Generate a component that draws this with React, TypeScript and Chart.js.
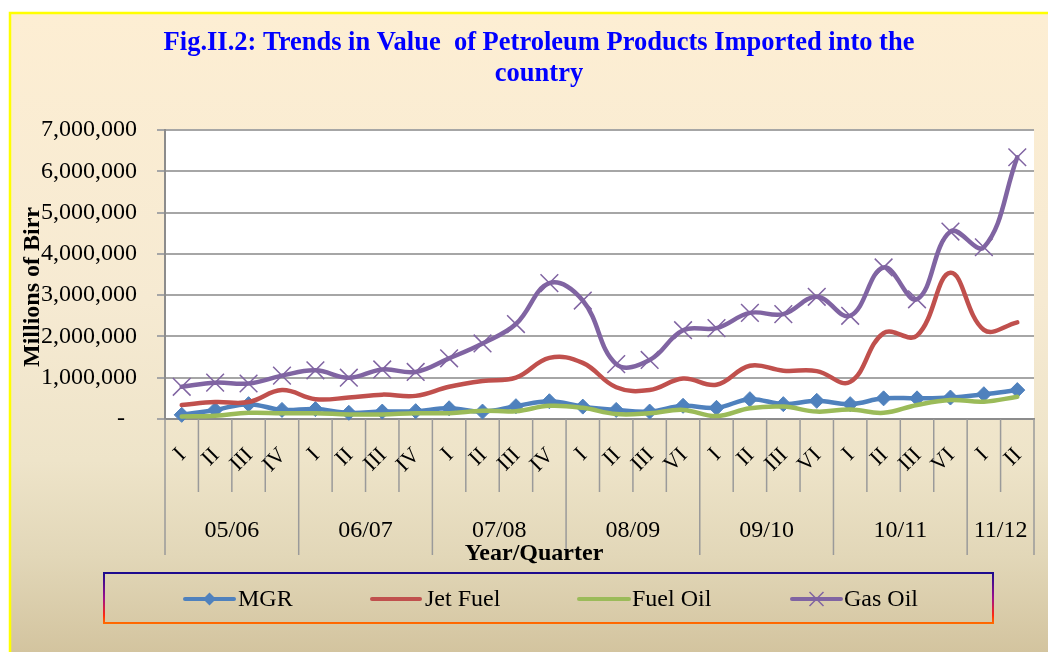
import React, { useEffect, useRef } from 'react';
import { Chart, registerables } from 'chart.js';

Chart.register(...registerables);

const quarterLabels = [
  'I', 'II', 'III', 'IV',
  'I', 'II', 'III', 'IV',
  'I', 'II', 'III', 'IV',
  'I', 'II', 'III', 'VI',
  'I', 'II', 'III', 'VI',
  'I', 'II', 'III', 'VI',
  'I', 'II',
];
const yearGroups = ['05/06', '06/07', '07/08', '08/09', '09/10', '10/11', '11/12'];
const yearGroupSizes = [4, 4, 4, 4, 4, 4, 2];

const mgr = [100000, 220000, 360000, 220000, 240000, 150000, 180000, 190000, 260000, 180000, 310000, 430000, 300000, 220000, 180000, 320000, 270000, 480000, 360000, 440000, 360000, 500000, 500000, 520000, 600000, 700000];
const jetFuel = [340000, 410000, 410000, 700000, 480000, 520000, 590000, 560000, 780000, 920000, 1000000, 1480000, 1360000, 770000, 700000, 980000, 830000, 1290000, 1170000, 1160000, 900000, 2080000, 2020000, 3540000, 2160000, 2340000];
const fuelOil = [60000, 80000, 150000, 140000, 140000, 110000, 110000, 140000, 140000, 200000, 190000, 320000, 270000, 120000, 140000, 220000, 70000, 260000, 300000, 180000, 230000, 150000, 340000, 460000, 420000, 540000];
const gasOil = [780000, 880000, 860000, 1050000, 1180000, 1000000, 1200000, 1140000, 1470000, 1830000, 2300000, 3290000, 2870000, 1330000, 1430000, 2150000, 2200000, 2570000, 2540000, 2960000, 2500000, 3670000, 2900000, 4540000, 4160000, 6340000];

const yMin = 0;
const yMax = 7000000;
const yStep = 1000000;

const titleLines = ['Fig.II.2: Trends in Value  of Petroleum Products Imported into the', 'country'];
const yTitle = 'Millions of Birr';
const xTitle = 'Year/Quarter';

const seriesNames = ['MGR', 'Jet Fuel', 'Fuel Oil', 'Gas Oil'];
const seriesColors = ['#4F81BD', '#C0504D', '#9BBB59', '#8064A2'];

const SERIF = '"Liberation Serif", "Times New Roman", serif';

export default function App() {
  const ref = useRef<HTMLCanvasElement | null>(null);

  useEffect(() => {
    document.body.style.margin = '0';
    const canvas = ref.current;
    if (!canvas) return;

    const decor = {
      id: 'decor',
      beforeDraw(chart: any) {
        const { ctx, chartArea: ca, width, height } = chart;
        ctx.save();
        ctx.fillStyle = '#ffffff';
        ctx.fillRect(0, 0, width, height);
        const g = ctx.createLinearGradient(0, 14, 0, height);
        g.addColorStop(0, '#FDEED3');
        g.addColorStop(0.45, '#F6EAD2');
        g.addColorStop(0.7, '#EEE4C9');
        g.addColorStop(0.85, '#E2D7B8');
        g.addColorStop(1, '#D3C49F');
        ctx.fillStyle = g;
        ctx.fillRect(11, 14, width - 11, height - 14);
        ctx.strokeStyle = '#FFFF00';
        ctx.lineWidth = 2.5;
        ctx.beginPath();
        ctx.moveTo(10, height);
        ctx.lineTo(10, 13);
        ctx.lineTo(width, 13);
        ctx.stroke();
        ctx.fillStyle = '#ffffff';
        ctx.fillRect(ca.left, ca.top, ca.right - ca.left, ca.bottom - ca.top);
        ctx.restore();
      },
      afterDraw(chart: any) {
        const { ctx, chartArea: ca } = chart;
        const xs = chart.scales.x;
        const n = quarterLabels.length;
        const cw = (ca.right - ca.left) / n;
        ctx.save();

        // title
        ctx.fillStyle = '#0000FF';
        ctx.font = `bold 26.5px ${SERIF}`;
        ctx.textAlign = 'center';
        ctx.textBaseline = 'alphabetic';
        ctx.fillText(titleLines[0], 539, 50);
        ctx.fillText(titleLines[1], 539, 81);

        // y title
        ctx.fillStyle = '#000';
        ctx.font = `bold 24px ${SERIF}`;
        ctx.save();
        ctx.translate(39, 287);
        ctx.rotate(-Math.PI / 2);
        ctx.fillText(yTitle, 0, 0);
        ctx.restore();

        // separators
        ctx.strokeStyle = '#9A9A9A';
        ctx.lineWidth = 1.5;
        const groupEdges = new Set<number>();
        let acc = 0;
        groupEdges.add(0);
        yearGroupSizes.forEach((s) => { acc += s; groupEdges.add(acc); });
        for (let i = 0; i <= n; i++) {
          const x = (i < n ? xs.getPixelForValue(i) - cw / 2 : xs.getPixelForValue(n - 1) + cw / 2);
          const bottom = groupEdges.has(i) ? 555 : 492;
          ctx.beginPath();
          ctx.moveTo(x, ca.bottom);
          ctx.lineTo(x, bottom);
          ctx.stroke();
        }

        // quarter labels
        ctx.fillStyle = '#000';
        ctx.font = `22px ${SERIF}`;
        for (let i = 0; i < n; i++) {
          const x = xs.getPixelForValue(i);
          ctx.save();
          ctx.translate(x + 1, 452);
          ctx.rotate(-Math.PI / 4);
          ctx.textAlign = 'right';
          ctx.textBaseline = 'middle';
          ctx.fillText(quarterLabels[i], 0, 0);
          ctx.restore();
        }

        // group labels
        ctx.font = `24px ${SERIF}`;
        ctx.textAlign = 'center';
        ctx.textBaseline = 'alphabetic';
        let start = 0;
        yearGroups.forEach((gname, gi) => {
          const s = yearGroupSizes[gi];
          const x0 = xs.getPixelForValue(start) - cw / 2;
          const x1 = xs.getPixelForValue(start + s - 1) + cw / 2;
          ctx.fillText(gname, (x0 + x1) / 2, 537);
          start += s;
        });

        // x title
        ctx.font = `bold 24px ${SERIF}`;
        ctx.fillText(xTitle, 534, 560);

        // legend box
        const lg = ctx.createLinearGradient(0, 573, 0, 623);
        lg.addColorStop(0, '#1C0A8E');
        lg.addColorStop(0.5, '#9C108E');
        lg.addColorStop(0.85, '#FF2A10');
        lg.addColorStop(1, '#FF6A00');
        ctx.strokeStyle = lg;
        ctx.lineWidth = 2;
        ctx.strokeRect(104, 573, 889, 50);

        const items = [
          { x1: 185, x2: 234, tx: 238 },
          { x1: 372, x2: 420, tx: 425 },
          { x1: 579, x2: 629, tx: 632 },
          { x1: 792, x2: 841, tx: 844 },
        ];
        const ly = 599;
        items.forEach((it, i) => {
          ctx.strokeStyle = seriesColors[i];
          ctx.lineWidth = 4;
          ctx.lineCap = 'round';
          ctx.beginPath();
          ctx.moveTo(it.x1, ly);
          ctx.lineTo(it.x2, ly);
          ctx.stroke();
          const cx = (it.x1 + it.x2) / 2;
          if (i === 0) {
            ctx.fillStyle = seriesColors[0];
            ctx.beginPath();
            ctx.moveTo(cx - 6.5, ly);
            ctx.lineTo(cx, ly - 6.5);
            ctx.lineTo(cx + 6.5, ly);
            ctx.lineTo(cx, ly + 6.5);
            ctx.closePath();
            ctx.fill();
          } else if (i === 3) {
            ctx.lineWidth = 1.5;
            ctx.lineCap = 'butt';
            const r = 7;
            ctx.beginPath();
            ctx.moveTo(cx - r, ly - r);
            ctx.lineTo(cx + r, ly + r);
            ctx.moveTo(cx + r, ly - r);
            ctx.lineTo(cx - r, ly + r);
            ctx.stroke();
          }
          ctx.fillStyle = '#000';
          ctx.font = `24px ${SERIF}`;
          ctx.textAlign = 'left';
          ctx.textBaseline = 'middle';
          ctx.fillText(seriesNames[i], it.tx, ly + 1);
        });

        ctx.restore();
      },
    };

    const common = {
      borderWidth: 4.5,
      tension: 0.4,
      borderCapStyle: 'round' as const,
      borderJoinStyle: 'round' as const,
      clip: false as const,
      fill: false,
    };

    const chart = new Chart(canvas, {
      type: 'line',
      data: {
        labels: quarterLabels,
        datasets: [
          {
            ...common,
            label: seriesNames[0],
            data: mgr,
            borderColor: seriesColors[0],
            backgroundColor: seriesColors[0],
            pointStyle: 'rectRot',
            pointRadius: 7.5,
            pointBorderWidth: 1,
            pointBackgroundColor: seriesColors[0],
            pointBorderColor: seriesColors[0],
            order: 3,
          },
          {
            ...common,
            label: seriesNames[1],
            data: jetFuel,
            borderColor: seriesColors[1],
            backgroundColor: seriesColors[1],
            pointRadius: 0,
            order: 2,
          },
          {
            ...common,
            label: seriesNames[2],
            data: fuelOil,
            borderColor: seriesColors[2],
            backgroundColor: seriesColors[2],
            pointRadius: 0,
            order: 1,
          },
          {
            ...common,
            label: seriesNames[3],
            data: gasOil,
            borderColor: seriesColors[3],
            backgroundColor: seriesColors[3],
            pointStyle: 'crossRot',
            pointRadius: 12.5,
            pointBorderWidth: 1.5,
            pointBorderColor: seriesColors[3],
            order: 0,
          },
        ],
      },
      options: {
        animation: false,
        responsive: false,
        events: [],
        layout: { padding: { left: 11, top: 130, right: 2, bottom: 233 } },
        plugins: {
          legend: { display: false },
          tooltip: { enabled: false },
          title: { display: false },
        },
        scales: {
          x: {
            type: 'category',
            offset: true,
            grid: { display: false },
            ticks: { display: false },
            border: { display: true, color: '#8C8C8C', width: 2 },
            afterFit: (s: any) => { s.height = 0; },
          },
          y: {
            min: yMin,
            max: yMax,
            ticks: {
              stepSize: yStep,
              padding: 20,
              color: '#000',
              font: { family: SERIF, size: 24 },
              callback: (v: any) => (Number(v) === 0 ? '-  ' : Number(v).toLocaleString('en-US')),
            },
            grid: { color: '#A6A6A6', lineWidth: 2, tickLength: 8 },
            border: { display: true, color: '#8C8C8C', width: 2 },
            afterFit: (s: any) => { s.width = 154; },
          },
        },
      },
      plugins: [decor],
    });

    return () => chart.destroy();
  }, []);

  return (
    <div style={{ width: 1048, height: 652 }}>
      <canvas ref={ref} width={1048} height={652} style={{ display: 'block', width: 1048, height: 652 }} />
    </div>
  );
}
